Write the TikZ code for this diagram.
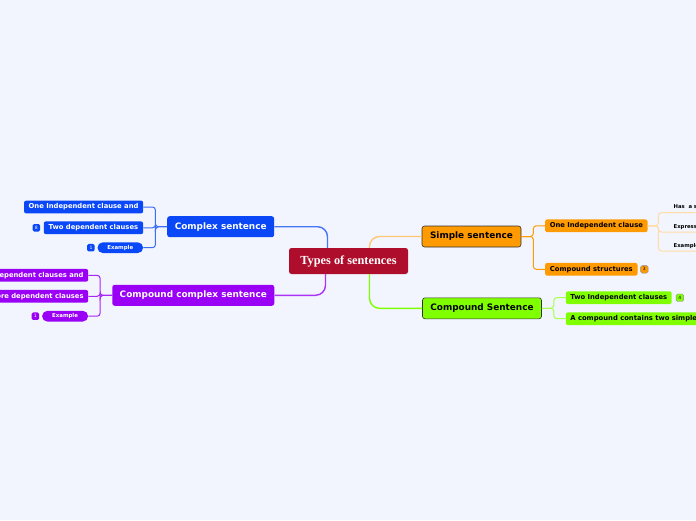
\documentclass[tikz,border=0pt]{standalone}
\usepackage{fontspec}
\setsansfont{DejaVu Sans}
\newfontfamily\titlefont{Liberation Serif}
\usetikzlibrary{positioning}
\definecolor{paper}{HTML}{F2F5FE}
\definecolor{rootred}{HTML}{AE0E2C}
\definecolor{cxblue}{HTML}{0A48F7}
\definecolor{ccpurple}{HTML}{9900F5}
\definecolor{smorange}{HTML}{FF9A00}
\definecolor{cplime}{HTML}{80FF00}
\begin{document}
\begin{tikzpicture}[x=1pt,y=-1pt,
  topic/.style={rounded corners=2.5pt, inner sep=0pt, minimum height=21pt, font=\sffamily\bfseries\fontsize{8.9}{10}\selectfont},
  subtopic/.style={rounded corners=2pt, inner ysep=0pt, inner xsep=4.5pt, minimum height=12.7pt, font=\sffamily\bfseries\fontsize{6.8}{8}\selectfont},
  pill/.style={rounded corners=5.3pt, inner sep=0pt, minimum height=10.7pt, font=\sffamily\bfseries\fontsize{5.4}{6}\selectfont},
  badge/.style={rounded corners=1.5pt, inner sep=0pt, minimum width=7.5pt, minimum height=7.5pt, font=\sffamily\fontsize{4.5}{5}\selectfont},
  leaf/.style={anchor=south west, inner xsep=0pt, inner ysep=2.5pt, font=\sffamily\bfseries\fontsize{5.3}{6}\selectfont},
  mainlink/.style={line width=1.4pt, rounded corners=10pt},
  sublink/.style={line width=1pt, rounded corners=3pt}]
\fill[paper] (0,0) rectangle (696,520);
\clip (0,0) rectangle (696,520);

\node[name=root, fill=rootred, text=white, rounded corners=2.5pt, minimum width=119pt, minimum height=26pt, font=\titlefont\bfseries\fontsize{12.3}{13}\selectfont] at (348.5,261) {Types of sentences};

\node[name=complex, topic, fill=cxblue, text=white, minimum width=107pt] at (220.7,226.7) {Complex sentence};
\node[name=cx_one, subtopic, fill=cxblue, text=white, anchor=east, minimum width=119pt] at (143.3,207) {One Independent clause and};
\node[name=cx_two, subtopic, fill=cxblue, text=white, anchor=east, minimum width=99.3pt] at (143.3,227.8) {Two dependent clauses};
\node[name=cx_example, pill, fill=cxblue, text=white, anchor=east, minimum width=45.6pt] at (143.3,247.7) {Example};
\node[name=cx_two_note, badge, fill=cxblue, text=white, left=3.3pt of cx_two] {8};
\node[name=cx_example_note, badge, fill=cxblue, text=white, left=2.4pt of cx_example] {1};

\node[name=ccomplex, topic, fill=ccpurple, text=white, minimum width=162pt] at (193.3,295.3) {Compound complex sentence};
\node[name=cc_one, subtopic, fill=ccpurple, text=white, anchor=east, minimum width=100pt] at (88.3,275.3) {Two or more independent clauses and};
\node[name=cc_two, subtopic, fill=ccpurple, text=white, anchor=east, minimum width=100pt] at (88.3,296.3) {One or more dependent clauses};
\node[name=cc_example, pill, fill=ccpurple, text=white, anchor=east, minimum width=46pt] at (88.3,316.2) {Example};
\node[name=cc_example_note, badge, fill=ccpurple, text=white, left=2.6pt of cc_example] {1};

\node[name=simple, topic, fill=smorange, draw=black!80, line width=0.6pt, minimum width=99pt] at (471.5,236.5) {Simple sentence};
\node[name=sm_one, subtopic, fill=smorange, anchor=west, minimum width=102.3pt] at (545,225.8) {One Independent clause};
\node[name=sm_two, subtopic, fill=smorange, anchor=west, minimum width=92.3pt] at (545,269.3) {Compound structures};
\node[name=sm_two_note, badge, fill=smorange, draw=black!45, line width=0.4pt, right=2.7pt of sm_two] {3};
\node[name=sm_has, leaf] at (673.5,212.7) {Has\ \ a subject and a verb};
\node[name=sm_express, leaf] at (673.5,232) {Expresses a complete thought};
\node[name=sm_example, leaf] at (673.5,251) {Example};

\node[name=compound, topic, fill=cplime, draw=black!80, line width=0.6pt, minimum width=119pt] at (482,308.3) {Compound Sentence};
\node[name=cp_one, subtopic, fill=cplime, anchor=west, minimum width=105.3pt] at (565.7,297.7) {Two Independent clauses};
\node[name=cp_one_note, badge, fill=cplime, draw=black!45, line width=0.4pt, right=4pt of cp_one] {4};
\node[name=cp_two, subtopic, fill=cplime, anchor=west, minimum width=160pt] at (565.7,318.7) {A compound contains two simple sentences};

\draw[mainlink, cxblue!75] (complex.east) -| ([xshift=-21pt]root.north);
\draw[mainlink, ccpurple!80] (ccomplex.east) -| ([xshift=-23pt]root.south);
\draw[mainlink, smorange!55] ([xshift=21pt]root.north) |- (simple.west);
\draw[mainlink, cplime] ([xshift=21pt]root.south) |- (compound.west);

\draw[sublink, cxblue!80] (complex.west) -- ++(-11.6,0) |- (cx_one.east);
\draw[sublink, cxblue!80] (complex.west) -- ++(-11.6,0) |- (cx_two.east);
\draw[sublink, cxblue!80] (complex.west) -- ++(-11.6,0) |- (cx_example.east);
\draw[sublink, ccpurple!85] (ccomplex.west) -- ++(-12,0) |- (cc_one.east);
\draw[sublink, ccpurple!85] (ccomplex.west) -- ++(-12,0) |- (cc_two.east);
\draw[sublink, ccpurple!85] (ccomplex.west) -- ++(-12,0) |- (cc_example.east);
\draw[sublink, smorange] (simple.east) -- ++(12,0) |- (sm_one.west);
\draw[sublink, smorange] (simple.east) -- ++(12,0) |- (sm_two.west);
\draw[sublink, smorange!35] (sm_one.east) -- ++(10.7,0) |- (sm_has.south east);
\draw[sublink, smorange!35] (sm_one.east) -- ++(10.7,0) |- (sm_express.south east);
\draw[sublink, smorange!35] (sm_one.east) -- ++(10.7,0) |- (sm_example.south east);
\draw[sublink, cplime!70] (compound.east) -- ++(12,0) |- (cp_one.west);
\draw[sublink, cplime!70] (compound.east) -- ++(12,0) |- (cp_two.west);
\end{tikzpicture}
\end{document}
